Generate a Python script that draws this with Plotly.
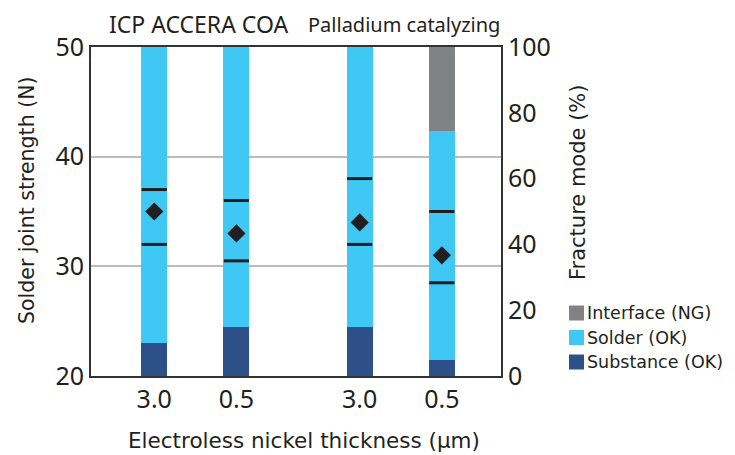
import plotly.graph_objects as go

# ---- data ----
groups = ["ICP ACCERA COA", "Palladium catalyzing"]
thickness = ["3.0", "0.5", "3.0", "0.5"]
group_of = [0, 0, 1, 1]
series_names = ["Substance (OK)", "Solder (OK)", "Interface (NG)"]
substance = [10, 15, 15, 5]
solder = [90, 85, 85, 69.5]
interface = [0, 0, 0, 25.5]
strength_mean = [35, 33, 34, 31]
strength_max = [37, 36, 38, 35]
strength_min = [32, 30.5, 32, 28.5]
colors = ["#2E5088", "#40C8F4", "#808285"]

FONT = "Noto Sans"
TFONT = "DejaVu Sans"
TXT = "#231f20"

# layout geometry (page pixels); the page body has an 8px margin
OFF = 8
W, H = 735, 455
L, R, T, B = 91, 234, 47, 79
PW, PH = W - L - R, H - T - B


def px(x):
    return (x - L) / PW


def py(y):
    return (H - B - y) / PH


xpos = [2 * i + g for i, g in enumerate(group_of)]

fig = go.Figure()
for name, vals, col in zip(series_names, [substance, solder, interface], colors):
    fig.add_trace(go.Bar(x=xpos, y=vals, name=name, marker_color=col,
                         marker_line_width=0, width=0.634, yaxis="y",
                         showlegend=False))

for vals in (strength_max, strength_min):
    fig.add_trace(go.Scatter(x=xpos, y=vals, mode="markers", yaxis="y2",
                             marker=dict(symbol="line-ew", size=18,
                                         line=dict(width=3, color=TXT)),
                             showlegend=False))
fig.add_trace(go.Scatter(x=xpos, y=strength_mean, mode="markers", yaxis="y2",
                         marker=dict(symbol="diamond", size=14, color=TXT,
                                     line=dict(width=0)),
                         showlegend=False))

annotations = []
# group labels
gsizes = [23, 20]
for gi, g in enumerate(groups):
    xs = [xpos[i] for i in range(len(xpos)) if group_of[i] == gi]
    annotations.append(dict(x=sum(xs) / len(xs), xref="x", xshift=3,
                            y=py(24), yref="paper",
                            text=g, showarrow=False,
                            font=dict(family=FONT, size=gsizes[gi], color=TXT),
                            xanchor="center", yanchor="middle"))
# axis titles
annotations.append(dict(x=px(27), y=py(200), xref="paper", yref="paper",
                        xanchor="center", yanchor="middle",
                        text="Solder joint strength (N)", textangle=-90,
                        showarrow=False, font=dict(family=TFONT, size=20.5, color=TXT)))
annotations.append(dict(x=px(578), y=py(183), xref="paper", yref="paper",
                        xanchor="center", yanchor="middle",
                        text="Fracture mode (%)", textangle=-90,
                        showarrow=False, font=dict(family=TFONT, size=21, color=TXT)))
annotations.append(dict(x=px(304), y=py(440), xref="paper", yref="paper",
                        xanchor="center", yanchor="middle",
                        text="Electroless nickel thickness (μm)",
                        showarrow=False, font=dict(family=TFONT, size=21.5, color=TXT)))

# manual legend (top to bottom: Interface, Solder, Substance)
shapes = []
for k, (name, col) in enumerate(zip(series_names[::-1], colors[::-1])):
    cy = 313 + 24.5 * k
    shapes.append(dict(type="rect", xref="paper", yref="paper",
                       x0=px(569), x1=px(584), y0=py(cy + 7.5), y1=py(cy - 7.5),
                       fillcolor=col, line=dict(width=0)))
    annotations.append(dict(x=px(585), y=py(cy), xref="paper", yref="paper",
                            text=name, showarrow=False, xanchor="left",
                            yanchor="middle",
                            font=dict(family=TFONT, size=17.5, color=TXT)))

fig.update_layout(
    width=W - OFF, height=H - OFF,
    margin=dict(l=L - OFF, r=R, t=T - OFF, b=B, pad=0),
    paper_bgcolor="white", plot_bgcolor="white",
    font=dict(family=FONT, color=TXT),
    barmode="stack", bargap=0,
    showlegend=False,
    xaxis=dict(range=[-1.54, 8.44], tickvals=xpos, ticktext=thickness,
               showline=True, mirror=True, linecolor="#333", linewidth=2,
               ticks="", showgrid=False, zeroline=False, automargin=False,
               tickfont=dict(size=25, color=TXT)),
    yaxis=dict(side="right", range=[0, 100], tickvals=[0, 20, 40, 60, 80, 100],
               showline=True, linecolor="#333", linewidth=2, ticks="",
               showgrid=False, zeroline=False, automargin=False,
               minor=dict(showgrid=True, tick0=0, dtick=100 / 3,
                          gridcolor="#bcbcbc", gridwidth=1.5, ticks=""),
               tickfont=dict(size=25, color=TXT)),
    yaxis2=dict(side="left", overlaying="y", range=[20, 50],
                tickvals=[20, 30, 40, 50], showline=True, linecolor="#333",
                linewidth=2, ticks="", showgrid=False, zeroline=False,
                automargin=False, tickfont=dict(size=25, color=TXT)),
    annotations=annotations,
    shapes=shapes,
)

fig.write_html("out.html")
